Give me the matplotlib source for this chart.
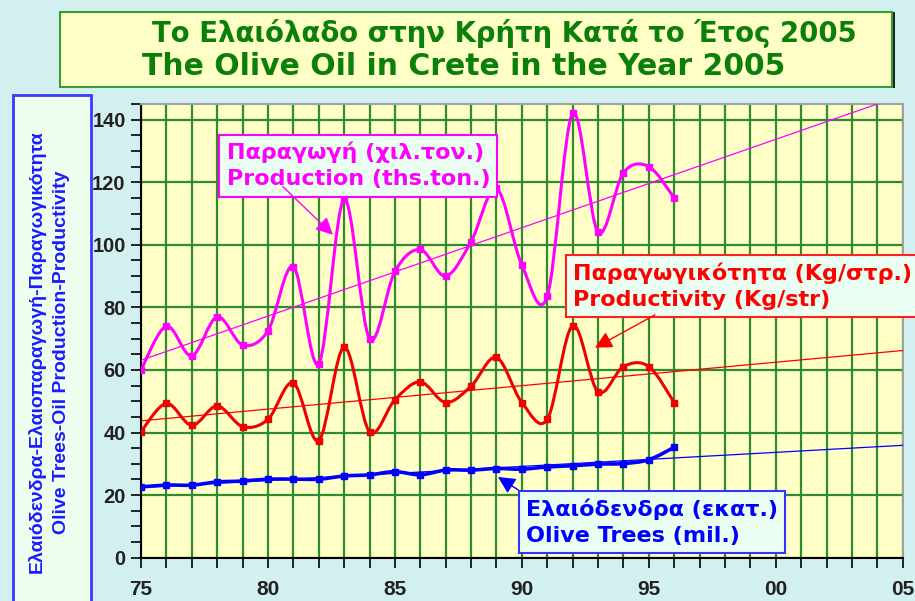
import numpy as np
import matplotlib
matplotlib.use("Agg")
import matplotlib.pyplot as plt
from matplotlib.path import Path
from matplotlib.patches import PathPatch, Rectangle
from matplotlib.ticker import MultipleLocator, FixedLocator

# data (years 1975-1996)
years = list(range(75, 97))
production = [60, 74, 64.5, 77, 68, 72.5, 93, 62, 114.5, 70, 91.5,
              98.5, 90, 101, 118, 93.5, 83.5, 142, 104, 123, 125, 115]
productivity = [40.3, 49.3, 42.3, 48.5, 41.9, 44.2, 55.9, 37.4, 67.3, 40.3, 50.5,
                56.2, 49.6, 54.8, 64, 49.6, 44.2, 74.2, 53, 61.1, 61.1, 49.6]
olive_trees = [22.6, 23.2, 23.2, 24.2, 24.5, 25.1, 25.1, 25.1, 26.1, 26.5, 27.5,
               26.5, 28, 28, 28.5, 28.3, 29, 29.4, 29.9, 30.1, 31.3, 35.3]
xtick_pos = [75, 80, 85, 90, 95, 100, 105]
xtick_lab = ["75", "80", "85", "90", "95", "00", "05"]

W, H = 915, 601


def smooth_path(xs, ys):
    # excel-like smoothed line (catmull-rom as bezier segments)
    p = np.column_stack([xs, ys]).astype(float)
    n = len(p)
    verts = [p[0]]
    codes = [Path.MOVETO]
    for i in range(n - 1):
        p0 = p[max(i - 1, 0)]
        p1 = p[i]
        p2 = p[i + 1]
        p3 = p[min(i + 2, n - 1)]
        verts += [p1 + (p2 - p0) / 6, p2 - (p3 - p1) / 6, p2]
        codes += [Path.CURVE4] * 3
    return Path(verts, codes)


fig = plt.figure(figsize=(W / 100, H / 100), dpi=100)
fig.patch.set_facecolor("#d3f0f0")
ax = fig.add_axes([141 / W, 1 - 557.7 / H, (902.7 - 141) / W, (557.7 - 104) / H])
ax.set_facecolor("#ffffc6")
ax.set_xlim(75, 105)
ax.set_ylim(0, 145)

# grid
ax.xaxis.set_major_locator(FixedLocator(xtick_pos))
ax.set_xticklabels(xtick_lab)
ax.xaxis.set_minor_locator(MultipleLocator(1))
ax.yaxis.set_major_locator(MultipleLocator(20))
ax.yaxis.set_minor_locator(MultipleLocator(5))
ax.grid(True, axis="x", which="both", color="#2e8b2e", lw=1.6, zorder=1)
ax.grid(True, axis="y", which="major", color="#2e8b2e", lw=1.6, zorder=1)
ax.set_axisbelow(True)

ax.tick_params(axis="both", which="both", direction="out", length=7, width=1.2, color="black")
ax.tick_params(axis="x", pad=9, labelsize=15, labelcolor="#222222")
ax.tick_params(axis="y", pad=4, labelsize=14.5, labelcolor="#222222")
for lab in ax.get_xticklabels() + ax.get_yticklabels():
    lab.set_fontfamily("Liberation Sans")
    lab.set_fontweight("bold")

for s in ["left", "bottom"]:
    ax.spines[s].set_color("black")
    ax.spines[s].set_linewidth(1.5)
for s in ["top", "right"]:
    ax.spines[s].set_color("#a0a0a0")
    ax.spines[s].set_linewidth(1.5)

# trend lines (linear fits)
xt = np.array([75, 105])
for vals, col in [(production, "#ff00ff"), (productivity, "#ff0000"), (olive_trees, "#0000ff")]:
    k, b = np.polyfit(years, vals, 1)
    ax.plot(xt, k * xt + b, color=col, lw=0.9, zorder=3)

# smoothed series
series = [(production, "#ff00ff", 2.2), (productivity, "#f00000", 2.2), (olive_trees, "#0000ff", 2.6)]
for vals, col, lw in series:
    ax.add_patch(PathPatch(smooth_path(years, vals), fill=False, edgecolor=col, lw=lw, zorder=4))
    ax.plot(years, vals, ls="none", marker="s", ms=4.5, mfc=col, mec=col, zorder=5)

# annotation boxes
ann_font = dict(family="DejaVu Sans", weight="bold", fontsize=16, linespacing=1.38)
ax.text(78.37, 125.3, "Παραγωγή (χιλ.τον.)\nProduction (ths.ton.)", color="#ff00ff",
        ha="left", va="center", zorder=7, clip_on=False,
        bbox=dict(boxstyle="square,pad=0.32", fc="#eafff2", ec="#ff00ff", lw=1.5), **ann_font)
ax.text(92.0, 86.9, "Παραγωγικότητα (Kg/στρ.)\nProductivity (Kg/str)", color="#ff0000",
        ha="left", va="center", zorder=7, clip_on=False,
        bbox=dict(boxstyle="square,pad=0.32", fc="#eafff2", ec="#ff2020", lw=1.5), **ann_font)
ax.text(90.16, 11.4, "Ελαιόδενδρα (εκατ.)\nOlive Trees (mil.)", color="#0000ff",
        ha="left", va="center", zorder=7, clip_on=False,
        bbox=dict(boxstyle="square,pad=0.32", fc="#eafff2", ec="#3333ff", lw=1.5), **ann_font)

arrows = [((82.56, 103.2), (80.59, 118.6), "#ff00ff"),
          ((92.88, 67.1), (95.24, 77.6), "#ff0000"),
          ((89.06, 25.8), (89.85, 21.7), "#0000ff")]
for tip, start, col in arrows:
    ax.annotate("", xy=tip, xytext=start, zorder=8,
                arrowprops=dict(arrowstyle="-|>", color=col, lw=1.0, mutation_scale=26,
                                shrinkA=0, shrinkB=0))

# title box
fig.add_artist(Rectangle((62 / W, 1 - 88 / H), 833 / W, 76 / H, transform=fig.transFigure,
                         fc="#222222", ec="none", zorder=1))
fig.add_artist(Rectangle((60 / W, 1 - 87 / H), 832 / W, 75 / H, transform=fig.transFigure,
                         fc="#ffffc6", ec="#33a033", lw=1.5, zorder=2))
title_font = dict(family="DejaVu Sans", weight="bold", color="#0a800a", zorder=3)
fig.text(152 / W, 1 - 42 / H, "Το Ελαιόλαδο στην Κρήτη Κατά το Έτος 2005",
         ha="left", va="baseline", fontsize=19.8, **title_font)
fig.text(142 / W, 1 - 75 / H, "The Olive Oil in Crete in the Year 2005",
         ha="left", va="baseline", fontsize=21.5, **title_font)

# y label box
fig.add_artist(Rectangle((13 / W, -0.01), 78 / W, 1 - 95 / H + 0.01, transform=fig.transFigure,
                         fc="#eefff0", ec="#3a3aff", lw=2, zorder=2))
fig.text(49 / W, 1 - 352 / H,
         "Ελαιόδενδρα-Ελαιοπαραγωγή-Παραγωγικότητα\nOlive Trees-Oil Production-Productivity",
         rotation=90, ha="center", va="center", multialignment="center",
         family="Liberation Sans", weight="bold", fontsize=14, color="#1a1aff",
         linespacing=1.5, zorder=3)

fig.savefig("out.png", dpi=100, facecolor=fig.get_facecolor())
